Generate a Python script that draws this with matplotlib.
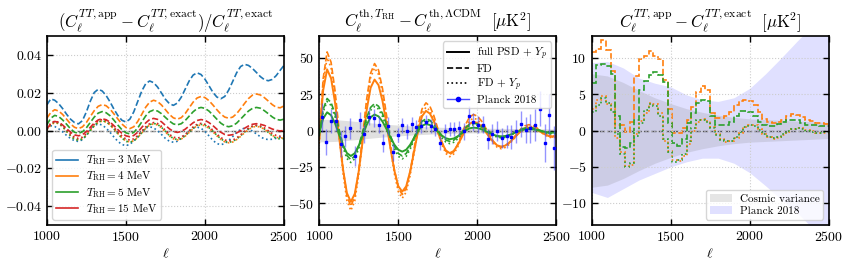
import numpy as np
import matplotlib.pyplot as plt
from matplotlib.lines import Line2D

plt.rcParams.update({
    'font.family': 'serif',
    'font.serif': ['cmr10'],
    'mathtext.fontset': 'cm',
    'axes.formatter.use_mathtext': True,
    'axes.unicode_minus': True,
    'font.size': 10,
})

ell = np.arange(1000, 2501, 25)

# --- panel 1: relative difference (dashed = FD, dotted = FD + Yp)
rel_fd_3 = [.0135, .0167, .0160, .0142, .0116, .0086, .0060, .0042, .0035, .0052, .0098, .0155, .0201, .0218,
            .0209, .0185, .0151, .0112, .0078, .0054, .0045, .0060, .0099, .0154, .0208, .0247, .0262, .0253,
            .0230, .0198, .0165, .0142, .0133, .0145, .0176, .0219, .0262, .0293, .0305, .0296, .0271, .0237,
            .0202, .0177, .0168, .0180, .0214, .0259, .0305, .0338, .0350, .0344, .0328, .0307, .0285, .0269,
            .0263, .0270, .0290, .0318, .0345]
rel_fd_4 = [.0065, .0095, .0110, .0103, .0085, .0060, .0035, .0017, .0010, .0019, .0042, .0074, .0105, .0128,
            .0137, .0131, .0113, .0087, .0060, .0034, .0016, .0010, .0020, .0048, .0085, .0123, .0150, .0160,
            .0153, .0135, .0110, .0085, .0067, .0060, .0068, .0090, .0120, .0150, .0172, .0180, .0174, .0158,
            .0135, .0110, .0087, .0071, .0065, .0071, .0089, .0115, .0143, .0169, .0187, .0193, .0188, .0174,
            .0156, .0137, .0123, .0120, .0130]
rel_fd_5 = [.0030, .0065, .0080, .0074, .0056, .0033, .0009, -.0009, -.0015, -.0007, .0014, .0043, .0071, .0092,
            .0100, .0094, .0078, .0054, .0028, .0004, -.0012, -.0018, -.0010, .0014, .0045, .0077, .0100, .0108,
            .0103, .0089, .0069, .0050, .0035, .0030, .0036, .0053, .0076, .0099, .0116, .0122, .0117, .0103,
            .0082, .0060, .0039, .0025, .0020, .0025, .0039, .0060, .0082, .0103, .0117, .0122, .0118, .0105,
            .0089, .0072, .0059, .0055, .0060]
rel_fd_15 = [.0008, .0036, .0048, .0043, .0029, .0010, -.0009, -.0023, -.0028, -.0022, -.0006, .0017, .0040,
             .0056, .0062, .0057, .0044, .0025, .0004, -.0015, -.0028, -.0033, -.0026, -.0009, .0016, .0040,
             .0058, .0064, .0059, .0046, .0027, .0009, -.0005, -.0010, -.0005, .0007, .0024, .0041, .0053,
             .0058, .0054, .0042, .0026, .0007, -.0009, -.0021, -.0025, -.0022, -.0013, -.0001, .0012, .0024,
             .0033, .0036, .0033, .0027, .0017, .0008, .0001, -.0002, .0000]
rel_fdyp_3 = [.0010, .0025, .0021, .0009, -.0007, -.0026, -.0042, -.0054, -.0058, -.0049, -.0026, .0003, .0026,
              .0035, .0029, .0013, -.0010, -.0035, -.0058, -.0074, -.0080, -.0073, -.0055, -.0030, -.0005,
              .0013, .0020, .0014, -.0001, -.0021, -.0042, -.0057, -.0062, -.0057, -.0042, -.0022, -.0002,
              .0013, .0018, .0012, -.0005, -.0028, -.0052, -.0069, -.0075, -.0069, -.0053, -.0032, -.0010,
              .0006, .0012, .0008, -.0003, -.0018, -.0033, -.0044, -.0048, -.0046, -.0041, -.0036, -.0032]
rel_fdyp_4 = [.0000, .0029, .0042, .0036, .0019, -.0004, -.0027, -.0044, -.0050, -.0043, -.0025, .0000, .0025,
              .0043, .0050, .0045, .0029, .0007, -.0017, -.0039, -.0055, -.0060, -.0054, -.0036, -.0013,
              .0011, .0029, .0035, .0029, .0014, -.0008, -.0029, -.0044, -.0050, -.0045, -.0030, -.0010,
              .0010, .0025, .0030, .0025, .0012, -.0007, -.0028, -.0047, -.0060, -.0065, -.0061, -.0048,
              -.0031, -.0012, .0005, .0018, .0022, .0018, .0007, -.0009, -.0025, -.0036, -.0040, -.0038]
rel_fdyp_5 = [.0005, .0033, .0045, .0039, .0021, -.0004, -.0028, -.0046, -.0052, -.0045, -.0026, .0000, .0026,
              .0045, .0052, .0046, .0030, .0008, -.0018, -.0040, -.0056, -.0062, -.0055, -.0037, -.0012,
              .0013, .0031, .0038, .0032, .0017, -.0005, -.0027, -.0042, -.0048, -.0043, -.0028, -.0008,
              .0013, .0028, .0033, .0028, .0015, -.0004, -.0025, -.0044, -.0057, -.0062, -.0058, -.0045,
              -.0028, -.0009, .0008, .0021, .0025, .0020, .0008, -.0010, -.0028, -.0040, -.0045, -.0043]
rel_fdyp_15 = [.0010, .0038, .0050, .0044, .0027, .0004, -.0019, -.0036, -.0042, -.0035, -.0017, .0008, .0033,
               .0051, .0058, .0053, .0037, .0016, -.0008, -.0029, -.0045, -.0050, -.0044, -.0027, -.0004,
               .0019, .0036, .0042, .0037, .0022, .0001, -.0020, -.0035, -.0040, -.0035, -.0021, -.0001,
               .0019, .0033, .0038, .0033, .0020, .0002, -.0019, -.0037, -.0050, -.0055, -.0051, -.0039,
               -.0023, -.0004, .0012, .0024, .0028, .0024, .0014, -.0001, -.0016, -.0026, -.0030, -.0028]

# --- panel 2: C_l^th(T_RH) - C_l^th(LCDM) [muK^2]
th_full_4 = [-6, 27.6, 42, 35.9, 19.3, -3.5, -26.3, -42.9, -49, -43.4, -28, -7, 14, 29.4, 35, 31.2, 20.4, 5, -12,
             -27.4, -38.2, -42, -38.3, -28.1, -14.3, -0.4, 9.8, 13.5, 11.6, 6.3, -1, -8.3, -13.6, -15.5, -14.1,
             -10.1, -4.8, 0.6, 4.6, 6, 5.2, 2.8, -0.6, -4.4, -7.8, -10.2, -11, -10.4, -8.5, -5.9, -3.1, -0.5, 1.4,
             2, 1.6, 0.5, -1, -2.5, -3.6, -4, -3.5]
th_fd_4 = [-7, 35.7, 54, 46.9, 27.5, 1, -25.5, -44.9, -52, -45.4, -27.5, -3, 21.5, 39.4, 46, 41.5, 28.9, 10.9,
           -8.9, -26.9, -39.5, -44, -39.8, -28.3, -12.5, 3.3, 14.8, 19, 16.6, 10.1, 1.3, -7.6, -14.1, -16.5, -14.7,
           -9.6, -2.8, 4.1, 9.2, 11, 9.9, 6.7, 2.2, -2.7, -7.2, -10.4, -11.5, -10.7, -8.6, -5.5, -2.1, 1.1, 3.2, 4,
           3.4, 1.9, -0.3, -2.4, -3.9, -4.5, -4]
th_fdyp_4 = [-9, 32.3, 50, 43, 23.8, -2.5, -28.8, -48, -55, -48.4, -30.5, -6, 18.5, 36.4, 43, 38.5, 26, 8.1, -11.6,
             -29.5, -42, -46.5, -42.3, -30.9, -15.3, 0.4, 11.8, 16, 13.7, 7.5, -1, -9.5, -15.7, -18, -16.2, -11.4,
             -4.8, 1.9, 6.7, 8.5, 7.5, 4.5, 0.3, -4.3, -8.5, -11.5, -12.5, -11.7, -9.6, -6.5, -3.1, 0.1, 2.2, 3,
             2.5, 1, -1, -3, -4.5, -5, -4.5]
th_full_5 = [-2, 8.2, 12.5, 10.5, 5, -2.5, -10, -15.5, -17.5, -15.6, -10.4, -3.3, 3.9, 9.1, 11, 9.7, 6.2, 1.1,
             -4.6, -9.7, -13.2, -14.5, -13.2, -9.8, -5, -0.3, 3.2, 4.5, 3.8, 1.9, -0.8, -3.4, -5.3, -6, -5.5, -4,
             -2, 0, 1.5, 2, 1.7, 0.9, -0.3, -1.7, -2.9, -3.7, -4, -3.8, -3.1, -2.1, -1, 0.1, 0.8, 1, 0.8, 0.4,
             -0.3, -0.9, -1.3, -1.5, -1.2]
th_fd_5 = [-3, 14.5, 22, 19.2, 11.5, 1, -9.5, -17.2, -20, -17.4, -10.4, -0.8, 8.9, 15.9, 18.5, 16.7, 11.7, 4.5,
           -3.5, -10.7, -15.7, -17.5, -15.8, -11.1, -4.8, 1.6, 6.3, 8, 7, 4.1, 0.3, -3.6, -6.5, -7.5, -6.7, -4.4,
           -1.3, 1.9, 4.2, 5, 4.5, 3.2, 1.3, -0.8, -2.7, -4, -4.5, -4.2, -3.3, -2, -0.5, 0.8, 1.7, 2, 1.7, 1, 0,
           -1, -1.7, -2, -1.5]
th_fdyp_5 = [-4, 12.8, 20, 17.2, 9.5, -1, -11.5, -19.2, -22, -19.4, -12.4, -2.8, 6.9, 13.9, 16.5, 14.7, 9.7, 2.5,
             -5.5, -12.7, -17.7, -19.5, -17.7, -12.9, -6.3, 0.4, 5.2, 7, 5.9, 3, -1, -5, -7.9, -9, -8.1, -5.8,
             -2.5, 0.8, 3.1, 4, 3.6, 2.3, 0.5, -1.5, -3.3, -4.6, -5, -4.7, -3.8, -2.5, -1, 0.3, 1.2, 1.5, 1.2,
             0.5, -0.5, -1.5, -2.2, -2.5, -2]

planck_ell = np.arange(1015, 2500, 30)
planck_res = [9, -8, 6.5, 6.5, -9, -4, 1.5, -17.5, 7, -2.5, 9.5, 8.5, 4, -8.5, 3, -15, -3, 3.5, -0.5, 4.5,
              2.5, 3, 6, 3, 1, -8.5, -0.5, 1, 1, 1.5, -0.5, 10, 6, 4, 4, -6, -2.5, -0.5, -5, -4,
              -4.5, -0.5, 4.5, 0.5, 1.5, 4, 15, -8.5, 11, -12]
planck_err = [10, 9, 8, 7, 9, 7, 7, 7, 6, 6, 6, 6, 6, 6, 6, 6, 5, 5, 5, 5,
              5, 5, 5, 5, 5, 5, 5, 5, 5, 5, 6, 7, 6, 6, 6, 7, 7, 7, 7, 8,
              8, 8, 9, 9, 10, 11, 12, 13, 14, 15]

# bands (every 100 in ell)
band_ell = np.arange(1000, 2501, 100)
cv_halfwidth = [7.8, 7.5, 6.6, 5.5, 4.5, 3.7, 3.0, 2.5, 2.1, 1.8, 1.6, 1.5, 1.4, 1.3, 1.2, 1.1]
planck_upper = [9.3, 9.5, 8.6, 7.2, 6.5, 6.0, 4.9, 4.2, 4.0, 4.5, 5.8, 7.8, 10.0, 12.3, 14.5, 17.0]
planck_lower = [-8.5, -9.2, -8.0, -6.8, -5.9, -5.0, -4.3, -3.8, -3.8, -4.5, -5.8, -7.6, -9.5, -11.3, -13.5, -16.0]

# --- panel 3: binned C_l^app - C_l^exact [muK^2]
bin_edges = np.arange(1000, 2501, 30)
app_fd_4 = [10.8, 11.2, 12.4, 11.0, 8.2, 0.8, 0.7, -0.2, 1.2, 7.5, 9.8, 10.3, 10.9, 10.2, 9.8, 7.0, 3.0, -0.3,
            -0.3, 0.3, 1.5, 3.3, 5.3, 6.1, 5.5, 2.4, 1.7, 1.7, 2.0, 2.6, 3.5, 4.0, 4.2, 4.1, 3.5, 2.6, 1.6, 1.2,
            1.0, 1.2, 1.5, 2.0, 2.3, 2.2, 1.9, 1.5, 1.3, 1.1, 1.0, 0.9]
app_fd_5 = [6.5, 9.0, 9.2, 8.8, 7.8, 2.0, -2.2, -2.4, -1.7, 1.5, 5.5, 6.8, 7.6, 8.0, 7.6, 6.7, 1.0, -1.7, -2.1,
            -1.2, 1.0, 2.4, 3.8, 4.2, 4.0, 2.0, 0.8, 0.8, 0.8, 1.2, 2.0, 2.7, 2.7, 2.6, 2.0, 1.2, 0.7, 0.6, 0.6,
            0.9, 1.2, 1.5, 1.5, 1.4, 1.0, 0.8, 0.7, 0.7, 0.6, 0.6]
app_fdyp_4 = [2.9, 4.2, 4.7, 3.6, 2.9, -1.0, -3.0, -4.9, -4.7, -0.5, 1.3, 2.4, 3.8, 3.6, 2.4, -1.5, -2.8, -4.0,
              -4.2, -3.5, -1.9, 0.0, 1.2, 1.6, 1.3, 0.5, -0.5, -1.2, -1.6, -1.5, -1.0, -0.3, 0.5, 0.8, 0.7, 0.2,
              -0.5, -0.9, -1.1, -1.0, -0.6, -0.2, 0.2, 0.3, 0.3, 0.1, -0.1, -0.3, -0.4, -0.3]
app_fdyp_5 = [2.5, 3.5, 4.5, 3.8, 2.5, -0.5, -3.2, -5.0, -4.5, -0.8, 1.0, 2.8, 3.6, 3.4, 2.0, -1.2, -3.0, -4.3,
              -4.0, -3.2, -1.5, 0.3, 1.4, 1.5, 1.2, 0.4, -0.6, -1.3, -1.5, -1.4, -0.9, -0.2, 0.5, 0.8, 0.6, 0.1,
              -0.5, -0.9, -1.0, -0.9, -0.5, -0.1, 0.2, 0.3, 0.2, 0.0, -0.2, -0.3, -0.3, -0.2]

c_blue, c_orange, c_green, c_red = '#1f77b4', '#ff7f0e', '#2ca02c', '#d62728'
leg_kw = dict(fontsize=8, handlelength=2.0, borderpad=0.35, labelspacing=0.2, handletextpad=0.7)


def estilo(ax):
    ax.set_xlim(1000, 2500)
    ax.set_xticks([1000, 1500, 2000, 2500])
    ax.tick_params(direction='in', top=True, right=True, length=4, width=1)
    ax.grid(True, ls=':', color='0.8', lw=0.8)
    for s in ax.spines.values():
        s.set_linewidth(1.2)
    ax.axhline(0, color='k', ls='--', lw=1, alpha=0.6, zorder=1)
    ax.set_xlabel(r'$\ell$', labelpad=2)


fig, axs = plt.subplots(1, 3, figsize=(8.51, 2.68), dpi=100)
fig.subplots_adjust(left=0.055, right=0.974, bottom=0.16, top=0.866, wspace=0.148)

# panel 1
ax = axs[0]
estilo(ax)
for fd, fdyp, c, t in [(rel_fd_3, rel_fdyp_3, c_blue, 3), (rel_fd_4, rel_fdyp_4, c_orange, 4),
                       (rel_fd_5, rel_fdyp_5, c_green, 5), (rel_fd_15, rel_fdyp_15, c_red, 15)]:
    ax.plot(ell, fd, ls='--', color=c, lw=1.2)
    ax.plot(ell, fdyp, ls=':', color=c, lw=1.2)
hand = [Line2D([], [], color=c, lw=1.2) for c in (c_blue, c_orange, c_green, c_red)]
labs = [r'$T_{\rm RH}=%d$ MeV' % t for t in (3, 4, 5, 15)]
ax.legend(hand, labs, loc='lower left', **leg_kw)
ax.set_ylim(-0.05, 0.05)
ax.set_yticks([-0.04, -0.02, 0, 0.02, 0.04])
ax.set_yticklabels([r'$-0.04$', r'$-0.02$', r'$0.00$', r'$0.02$', r'$0.04$'])
ax.set_title(r'$(C_\ell^{TT,{\rm app}} - C_\ell^{TT,{\rm exact}})/C_\ell^{TT,{\rm exact}}$', fontsize=12)

# panel 2
ax = axs[1]
estilo(ax)
ax.fill_between(band_ell, -np.array(cv_halfwidth), cv_halfwidth, color='0.88', lw=0, zorder=0)
for full, fd, fdyp, c in [(th_full_4, th_fd_4, th_fdyp_4, c_orange), (th_full_5, th_fd_5, th_fdyp_5, c_green)]:
    ax.plot(ell, full, ls='-', color=c, lw=1.4)
    ax.plot(ell, fd, ls='--', color=c, lw=1.2)
    ax.plot(ell, fdyp, ls=':', color=c, lw=1.2)
ax.errorbar(planck_ell, planck_res, yerr=planck_err, fmt='s', ms=2, color='blue', ecolor=(0.3, 0.3, 1, 0.6),
            elinewidth=1, zorder=3)
hand = [Line2D([], [], color='k', ls='-', lw=1.4), Line2D([], [], color='k', ls='--', lw=1.2),
        Line2D([], [], color='k', ls=':', lw=1.2),
        Line2D([], [], color=(0.3, 0.3, 1), lw=1, marker='o', ms=3, mfc='blue', mec='blue')]
labs = [r'full PSD + $Y_p$', 'FD', r'FD + $Y_p$', 'Planck 2018']
ax.legend(hand, labs, loc='upper right', **leg_kw)
ax.set_ylim(-65, 65)
ax.set_yticks([-50, -25, 0, 25, 50])
ax.set_title(r'$C_\ell^{{\rm th},T_{\rm RH}} - C_\ell^{{\rm th},\Lambda{\rm CDM}}\ \ [\mu{\rm K}^2]$', fontsize=12)

# panel 3
ax = axs[2]
estilo(ax)
ax.fill_between(band_ell, planck_lower, planck_upper, color='blue', alpha=0.12, lw=0, zorder=0,
                label='Planck 2018')
ax.fill_between(band_ell, -np.array(cv_halfwidth), cv_halfwidth, color='0.5', alpha=0.2, lw=0, zorder=0,
                label='Cosmic variance')
ax.stairs(app_fd_4, bin_edges, color=c_orange, ls='--', lw=1.2, baseline=None)
ax.stairs(app_fd_5, bin_edges, color=c_green, ls='--', lw=1.2, baseline=None)
ax.stairs(app_fdyp_4, bin_edges, color=c_orange, ls=':', lw=1.2, baseline=None)
ax.stairs(app_fdyp_5, bin_edges, color=c_green, ls=':', lw=1.2, baseline=None)
h, l = ax.get_legend_handles_labels()
ax.legend(h[::-1], l[::-1], loc='lower right', **leg_kw)
ax.set_ylim(-13, 13)
ax.set_yticks([-10, -5, 0, 5, 10])
ax.set_title(r'$C_\ell^{TT,{\rm app}} - C_\ell^{TT,{\rm exact}}\ \ [\mu{\rm K}^2]$', fontsize=12)

fig.savefig('out.png', dpi=100)
